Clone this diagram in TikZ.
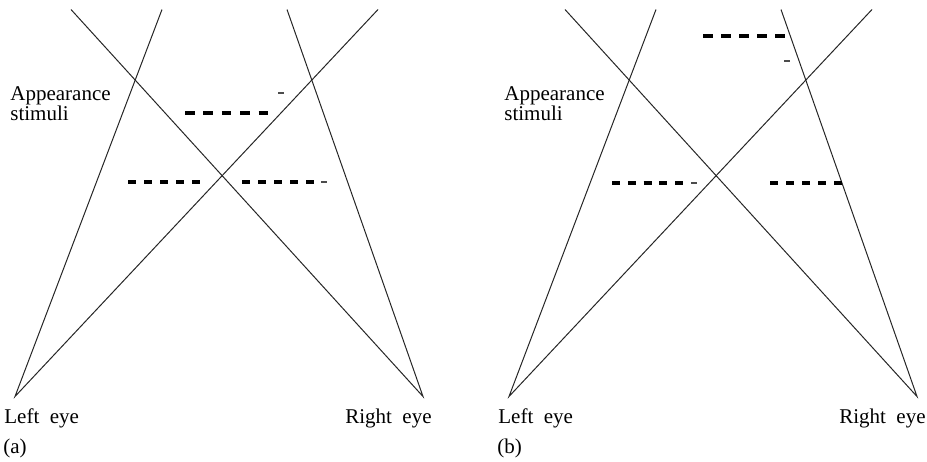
\documentclass[tikz,border=0pt]{standalone}
\usepackage{fontspec}
\setmainfont{Liberation Serif}
\usetikzlibrary{positioning}

\tikzset{
  ray/.style={line width=0.5pt,black!85},
  stimdash/.style={line width=2pt},
  tickdash/.style={line width=1.2pt,black!70},
  lbl/.style={inner sep=0pt,font=\fontsize{10.5}{10}\selectfont}
}

\begin{document}
\begin{tikzpicture}[x=0.5pt,y=-0.5pt]
\useasboundingbox (0,0) rectangle (927,461);
% eyes, lines of sight and labels, same for both panels
\foreach \p/\o in {a/0, b/494} {
  \coordinate (le\p) at (15+\o,396.5);
  \coordinate (re\p) at (423+\o,396.5);
  \coordinate (tl\p) at (162+\o,9.5);
  \coordinate (tm\p) at (378+\o,9.5);
  \coordinate (tn\p) at (71+\o,9.5);
  \coordinate (tr\p) at (287+\o,9.5);
  \draw[ray] (tl\p) -- (le\p) -- (tm\p);
  \draw[ray] (tn\p) -- (re\p) -- (tr\p);
  \node[lbl,anchor=base west] (left\p) at (4+\o,423) {Left\hspace{0.5em}eye};
  \node[lbl,anchor=base east] (right\p) at (432+\o,423) {Right\hspace{0.5em}eye};
  \node[lbl,anchor=base west] (cap\p) at (3+\o,453) {(\p)};
  \node[lbl,anchor=base west,align=left] (stim\p) at (10+\o,120) {Appearance\\stimuli};
}
% rows of stimulus dashes: start x / y / dash length / period
\foreach \x/\y/\d/\s in {185/113/9.5/18.4, 128/182/8/16, 242/182/8/16,
                         703/36/9.5/18.1, 612/183/8/15.75, 770/183/8/16} {
  \foreach \k in {0,...,4}
    \draw[stimdash] (\x+\k*\s,\y) -- ++(\d,0);
}
% single small dashes
\foreach \x/\y in {278/93, 321/182, 784/61, 691/183}
  \draw[tickdash] (\x,\y) -- ++(6,0);
\end{tikzpicture}
\end{document}
